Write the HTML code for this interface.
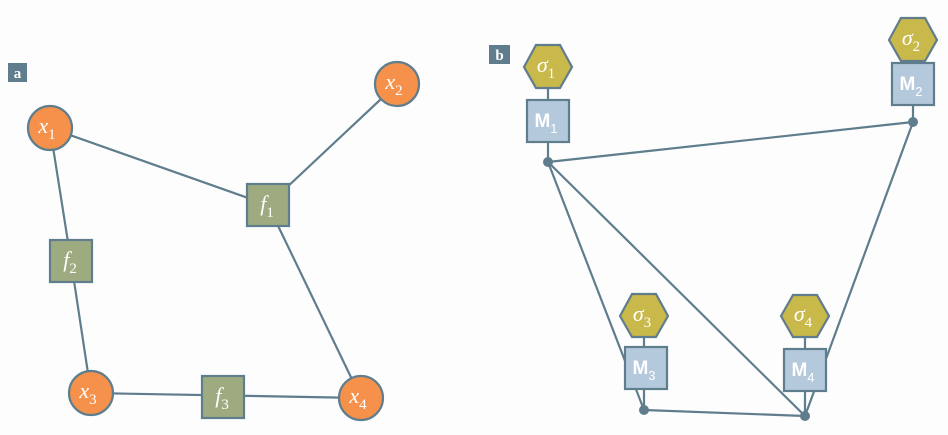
<!DOCTYPE html>
<html><head><style>body{margin:0;background:#fdfdfd}</style></head><body>
<svg width="948" height="430" xmlns="http://www.w3.org/2000/svg" font-family="Liberation Serif, serif">
<rect width="948" height="430" fill="#fdfdfd"/>
<g stroke="#5f7d8c" stroke-width="2.2" fill="none">
<line x1="50" y1="128" x2="268" y2="205"/><line x1="397" y1="84" x2="268" y2="205"/>
<line x1="50" y1="128" x2="71" y2="261"/><line x1="71" y1="261" x2="91" y2="393"/>
<line x1="91" y1="393" x2="361" y2="398"/><line x1="268" y1="205" x2="361" y2="398"/>
<line x1="548" y1="67" x2="548" y2="162"/><line x1="913" y1="40" x2="913" y2="122"/>
<line x1="644" y1="316" x2="644" y2="410"/><line x1="805" y1="316" x2="805" y2="416"/>
<line x1="548" y1="162" x2="913" y2="122"/><line x1="548" y1="162" x2="644" y2="410"/>
<line x1="548" y1="162" x2="805" y2="416"/><line x1="913" y1="122" x2="805" y2="416"/>
<line x1="644" y1="410" x2="805" y2="416"/>
</g>
<g fill="#5f7d8c"><circle cx="548" cy="162" r="5"/><circle cx="913" cy="122" r="5"/><circle cx="644" cy="410" r="5"/><circle cx="805" cy="416" r="5"/></g>
<g fill="#f5914a" stroke="#5f7d8c" stroke-width="2.2">
<circle cx="50" cy="128" r="22"/><circle cx="397" cy="84" r="22"/><circle cx="91" cy="393" r="22"/><circle cx="361" cy="398" r="22"/>
</g>
<g fill="#9eaa80" stroke="#5f7d8c" stroke-width="2.2">
<rect x="247" y="184" width="42" height="42"/><rect x="50" y="240" width="42" height="42"/><rect x="202" y="376" width="42" height="42"/>
</g>
<g fill="#b5c9dd" stroke="#5f7d8c" stroke-width="2.2">
<rect x="527" y="100" width="42" height="42"/><rect x="892" y="63" width="42" height="42"/>
<rect x="625" y="347" width="42" height="42"/><rect x="784" y="349" width="42" height="42"/>
</g>
<g fill="#c9b84a" stroke="#5f7d8c" stroke-width="2.2">
<polygon points="524,67 536,45 560,45 572,67 560,88 536,88"/>
<polygon points="889,40 901,18 925,18 937,40 925,61 901,61"/>
<polygon points="620,316 632,294 656,294 668,316 656,337 632,337"/>
<polygon points="781,316 793,295 817,295 829,316 817,337 793,337"/>
</g>
<rect x="8" y="63" width="19" height="19" fill="#5f7d8c"/>
<text x="17.5" y="78" fill="#fff" font-size="15" font-weight="bold" text-anchor="middle">a</text>
<rect x="489" y="45" width="21" height="19" fill="#5f7d8c"/>
<text x="499.5" y="60" fill="#fff" font-size="15" font-weight="bold" text-anchor="middle">b</text>
<g fill="#fff" font-size="22" font-style="italic" text-anchor="middle">
<text x="47" y="133">x<tspan font-size="15" font-style="normal" dy="6">1</tspan></text>
<text x="394" y="89">x<tspan font-size="15" font-style="normal" dy="6">2</tspan></text>
<text x="88" y="398">x<tspan font-size="15" font-style="normal" dy="6">3</tspan></text>
<text x="358" y="403">x<tspan font-size="15" font-style="normal" dy="6">4</tspan></text>
<text x="267" y="211">f<tspan font-size="15" font-style="normal" dy="6">1</tspan></text>
<text x="70" y="267">f<tspan font-size="15" font-style="normal" dy="6">2</tspan></text>
<text x="222" y="403">f<tspan font-size="15" font-style="normal" dy="6">3</tspan></text>
<text x="546" y="72">σ<tspan font-size="15" font-style="normal" dy="6">1</tspan></text>
<text x="911" y="45">σ<tspan font-size="15" font-style="normal" dy="6">2</tspan></text>
<text x="642" y="321">σ<tspan font-size="15" font-style="normal" dy="6">3</tspan></text>
<text x="803" y="321">σ<tspan font-size="15" font-style="normal" dy="6">4</tspan></text>
</g>
<g fill="#fff" font-family="Liberation Sans, sans-serif" font-size="19" font-weight="bold" text-anchor="middle">
<text x="546" y="127">M<tspan font-size="13" font-weight="normal" dy="6">1</tspan></text>
<text x="911" y="90">M<tspan font-size="13" font-weight="normal" dy="6">2</tspan></text>
<text x="644" y="374">M<tspan font-size="13" font-weight="normal" dy="6">3</tspan></text>
<text x="803" y="376">M<tspan font-size="13" font-weight="normal" dy="6">4</tspan></text>
</g>
</svg>
</body></html>
